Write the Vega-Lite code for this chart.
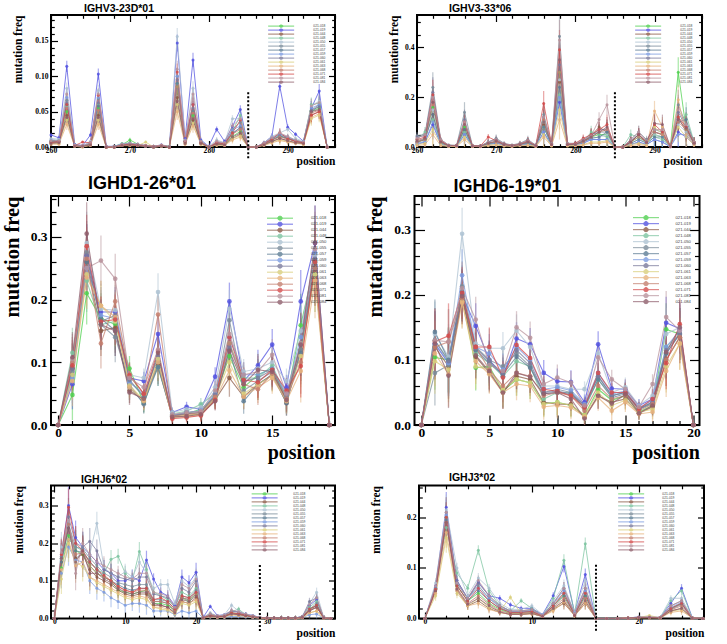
{
  "$schema": "https://vega.github.io/schema/vega-lite/v6.json",
  "background": "white",
  "padding": {"left": 1, "top": 3, "right": 0, "bottom": 0},
  "spacing": 5,
  "resolve": {"legend": {"color": "independent"}},
  "config": {
    "view": {"stroke": "black", "strokeWidth": 2},
    "axis": {"domain": false, "grid": false, "tickColor": "black", "tickWidth": 1.2, "labelFont": "Liberation Serif", "labelFontWeight": "bold", "labelColor": "black", "titleFont": "Liberation Serif", "titleFontWeight": "bold", "titleColor": "black", "labelFlush": false, "labelOverlap": false},
    "title": {"anchor": "start", "frame": "group", "font": "Liberation Sans", "fontWeight": "bold", "color": "black", "baseline": "alphabetic"}
  },
  "vconcat": [
    {
      "hconcat": [
        {
          "width": 284, "height": 132,
          "title": {"text": "IGHV3-23D*01", "fontSize": 10.5, "dx": 33, "offset": -0.5},
          "data": {
            "values": "x,021-018,021-019,021-044,021-048,021-050,021-055,021-057,021-059,021-060,021-061,021-063,021-068,021-071,021-081,021-084,e\n260,.008,.017,.006,.009,.012,.008,.007,.01,.008,.005,.004,.007,.006,.009,.005,.003\n261,.008,.013,.006,.01,.011,.008,.007,.009,.008,.005,.004,.007,.008,.009,.006,.003\n262,.05,.114,.045,.058,.083,.066,.06,.07,.062,.038,.032,.055,.06,.075,.042,.008\n263,.003,.004,.002,.003,.003,.002,.002,.003,.002,.001,.001,.002,.002,.003,.001,.001\n264,.001,.002,.001,.001,.002,.001,.001,.001,.001,0,0,.001,.007,.002,.001,.001\n265,.004,.017,.003,.005,.008,.005,.004,.006,.005,.003,.002,.004,.006,.006,.003,.003\n266,.055,.103,.045,.06,.08,.068,.058,.07,.062,.038,.032,.052,.073,.075,.042,.008\n267,0,.001,0,0,.001,0,0,0,0,0,0,0,0,.001,0,0\n268,0,.001,0,.001,0,0,0,.001,0,0,0,0,0,0,0,0\n269,.003,.004,.002,.005,.004,.003,.003,.004,.003,.002,.002,.003,.003,.004,.002,.002\n270,.01,.005,.003,.006,.004,.004,.003,.005,.004,.002,.002,.003,.004,.005,.003,.003\n271,.004,.004,.002,.003,.003,.003,.002,.003,.003,.002,.002,.002,.003,.004,.002,.002\n272,.001,.002,.001,.002,.002,.001,.001,.002,.001,.007,.002,.001,.002,.002,.001,.002\n273,.001,.001,0,.001,.001,0,0,.001,0,0,0,0,.001,.001,0,.001\n274,.002,.003,.001,.002,.002,.002,.001,.002,.002,.001,.001,.002,.002,.003,.001,.002\n275,.001,0,0,.001,0,0,0,.001,0,0,0,0,0,.001,0,0\n276,.085,.147,.07,.09,.156,.1,.09,.1,.095,.06,.05,.085,.106,.11,.065,.012\n277,.008,.012,.006,.009,.01,.008,.007,.009,.008,.005,.004,.007,.008,.009,.005,.003\n278,.045,.123,.038,.05,.083,.06,.05,.06,.055,.034,.03,.048,.06,.075,.04,.01\n279,.007,.01,.005,.008,.008,.007,.006,.008,.007,.004,.004,.006,.007,.008,.005,.003\n280,0,.001,0,0,.001,0,0,0,0,0,0,0,0,0,0,0\n281,.004,.025,.003,.005,.01,.006,.005,.007,.006,.003,.003,.005,.006,.008,.004,.004\n282,.004,.008,.003,.005,.006,.005,.004,.005,.004,.003,.002,.004,.005,.006,.003,.003\n283,.015,.029,.012,.022,.04,.025,.018,.024,.02,.012,.01,.018,.02,.03,.014,.005\n284,.022,.053,.018,.045,.04,.035,.028,.03,.027,.016,.014,.025,.038,.04,.02,.006\n285,0,0,0,0,0,0,0,0,0,0,0,0,0,0,0,0\n286,0,0,0,0,0,0,0,0,0,0,0,0,0,0,0,0\n287,.004,.006,.003,.005,.006,.005,.004,.005,.004,.003,.002,.004,.005,.006,.003,.003\n288,.01,.015,.008,.012,.015,.012,.01,.012,.01,.007,.006,.01,.011,.013,.008,.004\n289,.015,.086,.012,.016,.02,.018,.015,.018,.016,.01,.009,.014,.02,.02,.012,.006\n290,.012,.028,.009,.013,.025,.014,.012,.014,.012,.008,.007,.011,.012,.015,.009,.004\n291,.008,.018,.006,.009,.012,.009,.008,.009,.008,.006,.005,.008,.008,.01,.006,.003\n292,.006,.008,.005,.007,.008,.007,.006,.007,.006,.004,.004,.006,.006,.007,.005,.003\n293,.05,.055,.045,.06,.058,.052,.05,.055,.052,.04,.042,.048,.045,.058,.05,.01\n294,.055,.079,.05,.062,.065,.06,.058,.06,.057,.045,.047,.052,.05,.063,.053,.01\n295,0,0,0,0,0,0,0,0,0,0,0,0,0,0,0,0",
            "format": {"type": "csv", "parse": {"x": "number", "021-018": "number", "021-019": "number", "021-044": "number", "021-048": "number", "021-050": "number", "021-055": "number", "021-057": "number", "021-059": "number", "021-060": "number", "021-061": "number", "021-063": "number", "021-068": "number", "021-071": "number", "021-081": "number", "021-084": "number", "e": "number"}}
          },
          "transform": [{"fold": ["021-018", "021-019", "021-044", "021-048", "021-050", "021-055", "021-057", "021-059", "021-060", "021-061", "021-063", "021-068", "021-071", "021-081", "021-084"], "as": ["s", "v"]}],
          "resolve": {"scale": {"y": "independent"}, "axis": {"x": "independent", "y": "independent"}},
          "layer": [
            {
              "mark": {"type": "errorbar", "thickness": 1.2, "opacity": 0.5},
              "encoding": {
                "x": {"field": "x", "type": "quantitative", "scale": {"domain": [260, 296], "nice": false}, "axis": {"orient": "bottom", "values": [260, 262, 264, 266, 268, 270, 272, 274, 276, 278, 280, 282, 284, 286, 288, 290, 292, 294, 296], "format": "d", "labelExpr": "datum.value % 10 === 0 ? datum.label : ''", "tickSize": {"condition": {"test": "datum.value % 10 === 0", "value": -6.5}, "value": -3.3}, "labelFontSize": 7.6, "labelPadding": 5.5, "title": "position", "titleAnchor": "end", "titleFontSize": 11.5, "titlePadding": -1}},
                "y": {"field": "v", "type": "quantitative", "scale": {"domain": [0, 0.1865], "clamp": true}, "axis": {"orient": "left", "values": [0, 0.01, 0.02, 0.03, 0.04, 0.05, 0.06, 0.07, 0.08, 0.09, 0.1, 0.11, 0.12, 0.13, 0.14, 0.15, 0.16, 0.17, 0.18], "format": ".2f", "labelExpr": "round(datum.value*100) % 5 === 0 ? datum.label : ''", "tickSize": {"condition": {"test": "round(datum.value*100) % 5 === 0", "value": -6.5}, "value": -3.3}, "labelFontSize": 7.6, "labelPadding": 9.5, "title": "mutation freq", "titleAnchor": "end", "titleFontSize": 11.5, "titlePadding": 11}},
                "yError": {"field": "e"},
                "color": {"field": "s", "type": "nominal"}
              }
            },
            {
              "mark": {"type": "line", "strokeWidth": 1, "opacity": 0.75},
              "encoding": {
                "x": {"field": "x", "type": "quantitative", "scale": {"domain": [260, 296], "nice": false}, "axis": {"orient": "top", "values": [260, 262, 264, 266, 268, 270, 272, 274, 276, 278, 280, 282, 284, 286, 288, 290, 292, 294, 296], "labels": false, "tickSize": {"condition": {"test": "datum.value % 10 === 0", "value": -6.5}, "value": -3.3}, "title": null}},
                "y": {"field": "v", "type": "quantitative", "scale": {"domain": [0, 0.1865]}, "axis": {"orient": "right", "values": [0, 0.01, 0.02, 0.03, 0.04, 0.05, 0.06, 0.07, 0.08, 0.09, 0.1, 0.11, 0.12, 0.13, 0.14, 0.15, 0.16, 0.17, 0.18], "labels": false, "tickSize": {"condition": {"test": "round(datum.value*100) % 5 === 0", "value": -6.5}, "value": -3.3}, "title": null}},
                "color": {"field": "s", "type": "nominal"}
              }
            },
            {
              "mark": {"type": "point", "filled": true, "size": 9, "opacity": 0.85},
              "encoding": {
                "x": {"field": "x", "type": "quantitative", "scale": {"domain": [260, 296], "nice": false}, "axis": null},
                "y": {"field": "v", "type": "quantitative", "scale": {"domain": [0, 0.1865]}, "axis": null},
                "color": {"field": "s", "type": "nominal",
                  "scale": {"domain": ["021-018", "021-019", "021-044", "021-048", "021-050", "021-055", "021-057", "021-059", "021-060", "021-061", "021-063", "021-068", "021-071", "021-081", "021-084"], "range": ["#4fd04f", "#5252e0", "#8b5a46", "#7cc4a0", "#adc2d2", "#7a8c9a", "#5d7d95", "#7b9be0", "#7a7a9c", "#d9cf7c", "#e6b27c", "#c47f6e", "#d44a4a", "#b8939c", "#8f5e6c"]},
                  "legend": {"orient": "none", "legendX": 216.5, "legendY": 9.5, "title": null, "padding": 0, "rowPadding": -1.5, "clipHeight": 3.2, "symbolOffset": 12, "symbolType": "M-13,0H13M1.6,0A1.6,1.6,0,1,1,-1.6,0A1.6,1.6,0,1,1,1.6,0", "symbolSize": 4, "symbolStrokeWidth": 1, "symbolOpacity": 0.8, "labelFontSize": 3.3, "labelOffset": 30.5, "labelFont": "Liberation Sans", "labelColor": "#444", "encode": {"symbols": {"update": {"stroke": {"scale": "color", "field": "value"}}}}}}
              }
            },
            {
              "data": {"values": [{}]},
              "mark": {"type": "rule", "strokeDash": [2, 2], "strokeWidth": 2, "color": "black"},
              "encoding": {
                "x": {"datum": 285, "type": "quantitative", "scale": {"domain": [260, 296], "nice": false}, "axis": null},
                "y": {"datum": -0.016, "type": "quantitative", "scale": {"domain": [0, 0.1865]}, "axis": null},
                "y2": {"datum": 0.079}
              }
            }
          ]
        },
        {
          "width": 285, "height": 132,
          "title": {"text": "IGHV3-33*06", "fontSize": 10.5, "dx": 32, "offset": -0.5},
          "data": {
            "values": "x,021-018,021-019,021-044,021-048,021-050,021-055,021-057,021-059,021-060,021-061,021-063,021-068,021-071,021-081,021-084,e\n260,.02,.01,.02,.03,.015,.045,.02,.015,.04,.01,.005,.02,.03,.035,.025,.015\n261,.03,.02,.03,.06,.025,.05,.03,.02,.045,.015,.01,.03,.04,.05,.035,.02\n262,.16,.09,.13,.11,.15,.24,.13,.1,.22,.07,.05,.17,.21,.2,.18,.06\n263,.02,.01,.02,.015,.02,.03,.015,.01,.025,.01,.005,.02,.025,.03,.02,.01\n264,.005,.003,.005,.004,.005,.008,.004,.003,.006,.002,.002,.005,.006,.007,.005,.005\n265,.005,.003,.004,.004,.005,.007,.004,.003,.006,.002,.002,.005,.006,.006,.005,.005\n266,.08,.05,.07,.06,.09,.14,.07,.05,.11,.04,.03,.09,.1,.1,.09,.04\n267,.004,.003,.004,.003,.004,.006,.003,.003,.005,.002,.002,.004,.005,.005,.004,.004\n268,.003,.002,.003,.002,.003,.004,.003,.002,.004,.002,.001,.003,.004,.004,.003,.003\n269,.015,.01,.012,.01,.015,.02,.012,.01,.02,.008,.005,.015,.04,.02,.015,.012\n270,.02,.015,.02,.02,.02,.035,.02,.015,.03,.01,.008,.02,.025,.03,.025,.015\n271,.01,.008,.01,.008,.01,.015,.01,.008,.012,.005,.004,.01,.012,.013,.01,.008\n272,.005,.004,.005,.004,.005,.008,.005,.004,.006,.003,.002,.005,.006,.007,.005,.005\n273,.01,.008,.01,.012,.01,.015,.01,.008,.012,.006,.005,.01,.012,.013,.01,.01\n274,.015,.01,.02,.015,.015,.03,.015,.01,.025,.008,.006,.02,.025,.025,.02,.015\n275,.005,.004,.005,.005,.005,.008,.005,.004,.006,.003,.002,.005,.006,.007,.005,.005\n276,.1,.06,.09,.08,.1,.13,.08,.06,.12,.05,.04,.11,.175,.12,.1,.05\n277,.01,.006,.01,.008,.01,.015,.008,.006,.012,.005,.004,.01,.012,.013,.01,.008\n278,.3,.18,.26,.21,.27,.445,.24,.2,.33,.15,.11,.3,.39,.43,.35,.08\n279,.01,.006,.01,.008,.01,.015,.008,.006,.012,.005,.004,.01,.012,.013,.01,.008\n280,.01,.01,.012,.01,.01,.015,.01,.008,.012,.006,.005,.01,.015,.012,.01,.01\n281,.02,.015,.02,.02,.02,.03,.02,.015,.025,.01,.008,.02,.035,.03,.025,.015\n282,.04,.03,.045,.06,.035,.05,.035,.03,.045,.02,.015,.04,.05,.045,.04,.025\n283,.05,.03,.08,.05,.04,.06,.04,.03,.07,.02,.015,.06,.07,.11,.06,.03\n284,.05,.03,.06,.04,.05,.06,.06,.03,.07,.025,.02,.07,.09,.17,.08,.04\n285,0,0,0,0,0,0,0,0,0,0,0,0,0,0,0,0\n286,0,0,0,0,0,0,0,0,0,0,0,0,0,0,0,0\n287,.02,.01,.02,.05,.015,.03,.015,.01,.025,.01,.005,.02,.02,.03,.02,.02\n288,.04,.02,.05,.04,.03,.06,.03,.02,.05,.015,.01,.04,.05,.06,.05,.025\n289,.02,.01,.015,.015,.015,.03,.015,.01,.02,.008,.005,.02,.02,.025,.02,.015\n290,.05,.03,.06,.04,.05,.07,.04,.03,.06,.08,.145,.06,.09,.07,.095,.04\n291,.04,.02,.05,.03,.04,.06,.04,.02,.05,.05,.08,.05,.06,.07,.09,.04\n292,.002,.001,.002,.002,.002,.003,.002,.001,.002,.001,.001,.002,.002,.003,.002,.002\n293,.3,.06,.12,.1,.09,.17,.1,.05,.14,.08,.19,.1,.12,.15,.11,.06\n294,.07,.04,.06,.13,.06,.09,.11,.05,.08,.04,.05,.07,.08,.09,.075,.05\n295,.02,.01,.015,.02,.01,.02,.015,.01,.02,.008,.01,.015,.02,.02,.015,.02",
            "format": {"type": "csv", "parse": {"x": "number", "021-018": "number", "021-019": "number", "021-044": "number", "021-048": "number", "021-050": "number", "021-055": "number", "021-057": "number", "021-059": "number", "021-060": "number", "021-061": "number", "021-063": "number", "021-068": "number", "021-071": "number", "021-081": "number", "021-084": "number", "e": "number"}}
          },
          "transform": [{"fold": ["021-018", "021-019", "021-044", "021-048", "021-050", "021-055", "021-057", "021-059", "021-060", "021-061", "021-063", "021-068", "021-071", "021-081", "021-084"], "as": ["s", "v"]}],
          "resolve": {"scale": {"y": "independent"}, "axis": {"x": "independent", "y": "independent"}},
          "layer": [
            {
              "mark": {"type": "errorbar", "thickness": 1.2, "opacity": 0.5},
              "encoding": {
                "x": {"field": "x", "type": "quantitative", "scale": {"domain": [260, 296], "nice": false}, "axis": {"orient": "bottom", "values": [260, 262, 264, 266, 268, 270, 272, 274, 276, 278, 280, 282, 284, 286, 288, 290, 292, 294, 296], "format": "d", "labelExpr": "datum.value % 10 === 0 ? datum.label : ''", "tickSize": {"condition": {"test": "datum.value % 10 === 0", "value": -6.5}, "value": -3.3}, "labelFontSize": 7.6, "labelPadding": 5.5, "title": "position", "titleAnchor": "end", "titleFontSize": 11.5, "titlePadding": -1}},
                "y": {"field": "v", "type": "quantitative", "scale": {"domain": [0, 0.53], "clamp": true}, "axis": {"orient": "left", "values": [0, 0.05, 0.1, 0.15, 0.2, 0.25, 0.3, 0.35, 0.4, 0.45, 0.5], "format": ".1f", "labelExpr": "round(datum.value*100) % 20 === 0 ? datum.label : ''", "tickSize": {"condition": {"test": "round(datum.value*100) % 20 === 0", "value": -6.5}, "value": -3.3}, "labelFontSize": 7.6, "labelPadding": 9.5, "title": "mutation freq", "titleAnchor": "end", "titleFontSize": 11.5, "titlePadding": 5}},
                "yError": {"field": "e"},
                "color": {"field": "s", "type": "nominal"}
              }
            },
            {
              "mark": {"type": "line", "strokeWidth": 1, "opacity": 0.75},
              "encoding": {
                "x": {"field": "x", "type": "quantitative", "scale": {"domain": [260, 296], "nice": false}, "axis": {"orient": "top", "values": [260, 262, 264, 266, 268, 270, 272, 274, 276, 278, 280, 282, 284, 286, 288, 290, 292, 294, 296], "labels": false, "tickSize": {"condition": {"test": "datum.value % 10 === 0", "value": -6.5}, "value": -3.3}, "title": null}},
                "y": {"field": "v", "type": "quantitative", "scale": {"domain": [0, 0.53]}, "axis": {"orient": "right", "values": [0, 0.05, 0.1, 0.15, 0.2, 0.25, 0.3, 0.35, 0.4, 0.45, 0.5], "labels": false, "tickSize": {"condition": {"test": "round(datum.value*100) % 20 === 0", "value": -6.5}, "value": -3.3}, "title": null}},
                "color": {"field": "s", "type": "nominal"}
              }
            },
            {
              "mark": {"type": "point", "filled": true, "size": 9, "opacity": 0.85},
              "encoding": {
                "x": {"field": "x", "type": "quantitative", "scale": {"domain": [260, 296], "nice": false}, "axis": null},
                "y": {"field": "v", "type": "quantitative", "scale": {"domain": [0, 0.53]}, "axis": null},
                "color": {"field": "s", "type": "nominal",
                  "legend": {"orient": "none", "legendX": 217.5, "legendY": 9.5, "title": null, "padding": 0, "rowPadding": -1.5, "clipHeight": 3.2, "symbolOffset": 12, "symbolType": "M-13,0H13M1.6,0A1.6,1.6,0,1,1,-1.6,0A1.6,1.6,0,1,1,1.6,0", "symbolSize": 4, "symbolStrokeWidth": 1, "symbolOpacity": 0.8, "labelFontSize": 3.3, "labelOffset": 30.5, "labelFont": "Liberation Sans", "labelColor": "#444", "encode": {"symbols": {"update": {"stroke": {"scale": "color", "field": "value"}}}}}}
              }
            },
            {
              "data": {"values": [{}]},
              "mark": {"type": "rule", "strokeDash": [2, 2], "strokeWidth": 2, "color": "black"},
              "encoding": {
                "x": {"datum": 285, "type": "quantitative", "scale": {"domain": [260, 296], "nice": false}, "axis": null},
                "y": {"datum": -0.045, "type": "quantitative", "scale": {"domain": [0, 0.53]}, "axis": null},
                "y2": {"datum": 0.224}
              }
            }
          ]
        }
      ],
      "spacing": 50,
      "resolve": {"legend": {"color": "independent"}}
    },
    {
      "vconcat": [
        {
          "hconcat": [
            {
              "width": 284, "height": 229,
              "title": {"text": "IGHD1-26*01", "fontSize": 18, "dx": 37, "offset": -1},
              "data": {
                "values": "x,021-018,021-019,021-044,021-048,021-050,021-055,021-057,021-059,021-060,021-061,021-063,021-068,021-071,021-081,021-084,e\n0,0,0,0,0,0,0,0,0,0,0,0,0,0,0,0,0\n1,.048,.065,.09,.115,.1,.085,.08,.075,.09,.08,.07,.1,.095,.105,.108,.04\n2,.21,.27,.26,.23,.29,.275,.26,.25,.27,.24,.235,.265,.285,.25,.305,.05\n3,.17,.18,.15,.16,.185,.16,.17,.175,.165,.19,.19,.13,.165,.262,.16,.04\n4,.16,.18,.155,.165,.183,.14,.15,.17,.175,.165,.172,.197,.168,.233,.15,.04\n5,.09,.075,.055,.07,.08,.065,.06,.068,.072,.063,.06,.078,.08,.075,.052,.02\n6,.035,.07,.04,.045,.075,.033,.035,.05,.045,.04,.038,.05,.05,.06,.042,.015\n7,.1,.145,.095,.092,.212,.1,.092,.105,.11,.105,.1,.176,.118,.12,.115,.03\n8,.015,.02,.012,.018,.02,.015,.014,.016,.015,.013,.012,.014,.01,.017,.013,.008\n9,.018,.029,.015,.022,.025,.02,.018,.02,.018,.015,.013,.017,.012,.02,.014,.008\n10,.025,.025,.018,.033,.028,.022,.02,.023,.02,.018,.016,.02,.015,.022,.017,.01\n11,.045,.077,.04,.05,.06,.045,.042,.05,.048,.043,.04,.045,.04,.055,.038,.015\n12,.11,.197,.075,.13,.185,.167,.12,.14,.125,.1,.087,.13,.14,.145,.118,.03\n13,.06,.07,.045,.075,.085,.055,.038,.08,.07,.05,.045,.065,.072,.08,.065,.02\n14,.08,.095,.065,.075,.09,.07,.065,.08,.075,.065,.06,.057,.068,.085,.088,.025\n15,.09,.128,.08,.095,.1,.085,.08,.09,.088,.078,.075,.082,.088,.112,.085,.025\n16,.04,.06,.035,.045,.07,.038,.035,.05,.045,.04,.038,.042,.055,.05,.04,.02\n17,.159,.197,.12,.13,.15,.12,.115,.14,.128,.11,.086,.1,.094,.13,.128,.05\n18,.26,.29,.25,.24,.27,.26,.25,.275,.265,.24,.23,.25,.26,.28,.29,.06\n19,0,0,0,0,0,0,0,0,0,0,0,0,0,0,0,0",
                "format": {"type": "csv", "parse": {"x": "number", "021-018": "number", "021-019": "number", "021-044": "number", "021-048": "number", "021-050": "number", "021-055": "number", "021-057": "number", "021-059": "number", "021-060": "number", "021-061": "number", "021-063": "number", "021-068": "number", "021-071": "number", "021-081": "number", "021-084": "number", "e": "number"}}
              },
              "transform": [{"fold": ["021-018", "021-019", "021-044", "021-048", "021-050", "021-055", "021-057", "021-059", "021-060", "021-061", "021-063", "021-068", "021-071", "021-081", "021-084"], "as": ["s", "v"]}],
              "resolve": {"scale": {"y": "independent"}, "axis": {"x": "independent", "y": "independent"}},
              "layer": [
                {
                  "mark": {"type": "errorbar", "thickness": 1.3, "opacity": 0.5},
                  "encoding": {
                    "x": {"field": "x", "type": "quantitative", "scale": {"domain": [-0.5, 19.4], "nice": false}, "axis": {"orient": "bottom", "values": [0, 1, 2, 3, 4, 5, 6, 7, 8, 9, 10, 11, 12, 13, 14, 15, 16, 17, 18, 19], "format": "d", "labelExpr": "datum.value % 5 === 0 ? datum.label : ''", "tickSize": {"condition": {"test": "datum.value % 5 === 0", "value": -10}, "value": -4.5}, "labelFontSize": 13.5, "labelPadding": 10, "title": "position", "titleAnchor": "end", "titleFontSize": 20, "titlePadding": -2}},
                    "y": {"field": "v", "type": "quantitative", "scale": {"domain": [0, 0.365], "clamp": true}, "axis": {"orient": "left", "values": [0, 0.02, 0.04, 0.06, 0.08, 0.1, 0.12, 0.14, 0.16, 0.18, 0.2, 0.22, 0.24, 0.26, 0.28, 0.3, 0.32, 0.34, 0.36], "format": ".1f", "labelExpr": "round(datum.value*100) % 10 === 0 ? datum.label : ''", "tickSize": {"condition": {"test": "round(datum.value*100) % 10 === 0", "value": -10}, "value": -5}, "labelFontSize": 13.5, "labelPadding": 14, "title": "mutation freq", "titleAnchor": "end", "titleFontSize": 20.5, "titlePadding": 8}},
                    "yError": {"field": "e"},
                    "color": {"field": "s", "type": "nominal"}
                  }
                },
                {
                  "mark": {"type": "line", "strokeWidth": 1.1, "opacity": 0.75},
                  "encoding": {
                    "x": {"field": "x", "type": "quantitative", "scale": {"domain": [-0.5, 19.4], "nice": false}, "axis": {"orient": "top", "values": [0, 1, 2, 3, 4, 5, 6, 7, 8, 9, 10, 11, 12, 13, 14, 15, 16, 17, 18, 19], "labels": false, "tickSize": {"condition": {"test": "datum.value % 5 === 0", "value": -10}, "value": -4.5}, "title": null}},
                    "y": {"field": "v", "type": "quantitative", "scale": {"domain": [0, 0.365]}, "axis": {"orient": "right", "values": [0, 0.02, 0.04, 0.06, 0.08, 0.1, 0.12, 0.14, 0.16, 0.18, 0.2, 0.22, 0.24, 0.26, 0.28, 0.3, 0.32, 0.34, 0.36], "labels": false, "tickSize": {"condition": {"test": "round(datum.value*100) % 10 === 0", "value": -10}, "value": -5}, "title": null}},
                    "color": {"field": "s", "type": "nominal"}
                  }
                },
                {
                  "mark": {"type": "point", "filled": true, "size": 22, "opacity": 0.85},
                  "encoding": {
                    "x": {"field": "x", "type": "quantitative", "scale": {"domain": [-0.5, 19.4], "nice": false}, "axis": null},
                    "y": {"field": "v", "type": "quantitative", "scale": {"domain": [0, 0.365]}, "axis": null},
                    "color": {"field": "s", "type": "nominal",
                      "legend": {"orient": "none", "legendX": 215.5, "legendY": 19.5, "title": null, "padding": 0, "rowPadding": -0.64, "clipHeight": 5.36, "symbolOffset": 11, "symbolType": "M-6.5,0H6.5M1.1,0A1.1,1.1,0,1,1,-1.1,0A1.1,1.1,0,1,1,1.1,0", "symbolSize": 16, "symbolStrokeWidth": 1, "symbolOpacity": 0.8, "labelFontSize": 4.2, "labelOffset": 28.5, "labelFont": "Liberation Sans", "labelColor": "#444", "encode": {"symbols": {"update": {"stroke": {"scale": "color", "field": "value"}}}}}}
                  }
                }
              ]
            },
            {
              "width": 285, "height": 229,
              "title": {"text": "IGHD6-19*01", "fontSize": 18, "dx": 39, "offset": -1},
              "data": {
                "values": "x,021-018,021-019,021-044,021-048,021-050,021-055,021-057,021-059,021-060,021-061,021-063,021-068,021-071,021-081,021-084,e\n0,0,0,0,0,0,0,0,0,0,0,0,0,0,0,0,0\n1,.104,.125,.12,.13,.14,.08,.143,.125,.13,.098,.11,.12,.128,.13,.125,.05\n2,.1,.095,.09,.1,.105,.092,.1,.095,.098,.085,.078,.128,.137,.128,.076,.05\n3,.2,.2,.195,.2,.294,.213,.205,.23,.2,.19,.188,.195,.203,.21,.198,.04\n4,.088,.152,.105,.11,.125,.12,.115,.12,.118,.09,.098,.12,.12,.162,.107,.035\n5,.09,.1,.08,.095,.118,.1,.095,.11,.098,.085,.078,.085,.12,.092,.083,.03\n6,.052,.075,.05,.075,.118,.09,.078,.085,.08,.055,.05,.06,.073,.083,.05,.025\n7,.07,.133,.075,.098,.145,.11,.105,.12,.115,.07,.063,.08,.123,.15,.08,.025\n8,.065,.124,.07,.09,.12,.09,.088,.1,.095,.065,.06,.075,.103,.134,.074,.025\n9,.033,.08,.035,.04,.06,.05,.048,.055,.05,.032,.028,.045,.055,.063,.048,.02\n10,.035,.067,.032,.05,.06,.055,.05,.058,.052,.035,.03,.05,.052,.073,.05,.02\n11,.03,.066,.032,.05,.055,.05,.047,.053,.048,.03,.027,.045,.045,.065,.04,.018\n12,.015,.035,.012,.025,.055,.03,.028,.032,.03,.015,.013,.022,.027,.03,.01,.012\n13,.055,.124,.045,.07,.11,.075,.07,.08,.075,.05,.042,.06,.08,.104,.045,.02\n14,.038,.056,.035,.045,.05,.045,.042,.048,.045,.03,.022,.04,.05,.07,.033,.015\n15,.045,.055,.04,.05,.058,.05,.048,.052,.05,.038,.035,.045,.05,.055,.047,.015\n16,.02,.03,.018,.025,.03,.025,.024,.026,.025,.02,.017,.022,.025,.028,.018,.01\n17,.03,.04,.028,.035,.045,.035,.033,.038,.035,.024,.02,.032,.04,.063,.03,.015\n18,.147,.157,.1,.12,.14,.11,.11,.12,.115,.09,.083,.1,.095,.166,.112,.04\n19,.14,.148,.135,.14,.15,.14,.14,.145,.14,.125,.125,.135,.155,.145,.15,.04\n20,0,0,0,0,0,0,0,0,0,0,0,0,0,0,0,0",
                "format": {"type": "csv", "parse": {"x": "number", "021-018": "number", "021-019": "number", "021-044": "number", "021-048": "number", "021-050": "number", "021-055": "number", "021-057": "number", "021-059": "number", "021-060": "number", "021-061": "number", "021-063": "number", "021-068": "number", "021-071": "number", "021-081": "number", "021-084": "number", "e": "number"}}
              },
              "transform": [{"fold": ["021-018", "021-019", "021-044", "021-048", "021-050", "021-055", "021-057", "021-059", "021-060", "021-061", "021-063", "021-068", "021-071", "021-081", "021-084"], "as": ["s", "v"]}],
              "resolve": {"scale": {"y": "independent"}, "axis": {"x": "independent", "y": "independent"}},
              "layer": [
                {
                  "mark": {"type": "errorbar", "thickness": 1.3, "opacity": 0.5},
                  "encoding": {
                    "x": {"field": "x", "type": "quantitative", "scale": {"domain": [-0.5, 20.45], "nice": false}, "axis": {"orient": "bottom", "values": [0, 1, 2, 3, 4, 5, 6, 7, 8, 9, 10, 11, 12, 13, 14, 15, 16, 17, 18, 19, 20], "format": "d", "labelExpr": "datum.value % 5 === 0 ? datum.label : ''", "tickSize": {"condition": {"test": "datum.value % 5 === 0", "value": -10}, "value": -4.5}, "labelFontSize": 13.5, "labelPadding": 10, "title": "position", "titleAnchor": "end", "titleFontSize": 20, "titlePadding": -2}},
                    "y": {"field": "v", "type": "quantitative", "scale": {"domain": [0, 0.352], "clamp": true}, "axis": {"orient": "left", "values": [0, 0.02, 0.04, 0.06, 0.08, 0.1, 0.12, 0.14, 0.16, 0.18, 0.2, 0.22, 0.24, 0.26, 0.28, 0.3, 0.32, 0.34], "format": ".1f", "labelExpr": "round(datum.value*100) % 10 === 0 ? datum.label : ''", "tickSize": {"condition": {"test": "round(datum.value*100) % 10 === 0", "value": -10}, "value": -5}, "labelFontSize": 13.5, "labelPadding": 14, "title": "mutation freq", "titleAnchor": "end", "titleFontSize": 20.5, "titlePadding": 8}},
                    "yError": {"field": "e"},
                    "color": {"field": "s", "type": "nominal"}
                  }
                },
                {
                  "mark": {"type": "line", "strokeWidth": 1.1, "opacity": 0.75},
                  "encoding": {
                    "x": {"field": "x", "type": "quantitative", "scale": {"domain": [-0.5, 20.45], "nice": false}, "axis": {"orient": "top", "values": [0, 1, 2, 3, 4, 5, 6, 7, 8, 9, 10, 11, 12, 13, 14, 15, 16, 17, 18, 19, 20], "labels": false, "tickSize": {"condition": {"test": "datum.value % 5 === 0", "value": -10}, "value": -4.5}, "title": null}},
                    "y": {"field": "v", "type": "quantitative", "scale": {"domain": [0, 0.352]}, "axis": {"orient": "right", "values": [0, 0.02, 0.04, 0.06, 0.08, 0.1, 0.12, 0.14, 0.16, 0.18, 0.2, 0.22, 0.24, 0.26, 0.28, 0.3, 0.32, 0.34], "labels": false, "tickSize": {"condition": {"test": "round(datum.value*100) % 10 === 0", "value": -10}, "value": -5}, "title": null}},
                    "color": {"field": "s", "type": "nominal"}
                  }
                },
                {
                  "mark": {"type": "point", "filled": true, "size": 22, "opacity": 0.85},
                  "encoding": {
                    "x": {"field": "x", "type": "quantitative", "scale": {"domain": [-0.5, 20.45], "nice": false}, "axis": null},
                    "y": {"field": "v", "type": "quantitative", "scale": {"domain": [0, 0.352]}, "axis": null},
                    "color": {"field": "s", "type": "nominal",
                      "legend": {"orient": "none", "legendX": 218, "legendY": 19, "title": null, "padding": 0, "rowPadding": -0.64, "clipHeight": 5.36, "symbolOffset": 11, "symbolType": "M-6.5,0H6.5M1.1,0A1.1,1.1,0,1,1,-1.1,0A1.1,1.1,0,1,1,1.1,0", "symbolSize": 16, "symbolStrokeWidth": 1, "symbolOpacity": 0.8, "labelFontSize": 4.2, "labelOffset": 27, "labelFont": "Liberation Sans", "labelColor": "#444", "encode": {"symbols": {"update": {"stroke": {"scale": "color", "field": "value"}}}}}}
                  }
                }
              ]
            }
          ],
          "spacing": 27.5,
          "resolve": {"legend": {"color": "independent"}}
        },
        {
          "hconcat": [
            {
              "width": 284, "height": 133,
              "title": {"text": "IGHJ6*02", "fontSize": 10.5, "dx": 30, "offset": -0.5},
              "data": {
                "values": "x,021-018,021-019,021-044,021-048,021-050,021-055,021-057,021-059,021-060,021-061,021-063,021-068,021-071,021-081,021-084,e\n0,0,0,0,0,0,0,0,0,0,0,0,0,0,0,0,0\n1,.135,.17,.15,.16,.19,.16,.15,.12,.165,.105,.13,.17,.17,.175,.16,.04\n2,.22,.3,.24,.21,.26,.25,.24,.19,.27,.2,.21,.25,.295,.26,.24,.05\n3,.18,.215,.16,.19,.15,.19,.18,.155,.2,.15,.14,.17,.2,.12,.15,.045\n4,.17,.19,.17,.18,.19,.185,.175,.15,.19,.138,.15,.175,.18,.2,.18,.04\n5,.14,.17,.13,.15,.17,.16,.15,.1,.205,.11,.11,.14,.15,.17,.12,.035\n6,.12,.15,.11,.13,.253,.14,.13,.08,.18,.095,.1,.12,.13,.15,.12,.03\n7,.11,.13,.1,.12,.135,.12,.11,.07,.13,.085,.09,.11,.115,.14,.105,.025\n8,.1,.12,.09,.157,.12,.11,.1,.055,.12,.075,.08,.1,.1,.13,.095,.025\n9,.075,.1,.075,.165,.11,.095,.09,.045,.11,.065,.07,.085,.085,.12,.08,.02\n10,.07,.1,.065,.12,.125,.09,.08,.035,.105,.055,.06,.075,.075,.11,.07,.02\n11,.065,.11,.06,.1,.11,.085,.075,.04,.1,.05,.055,.07,.07,.105,.065,.02\n12,.07,.1,.065,.178,.15,.09,.08,.04,.11,.055,.06,.075,.08,.12,.07,.025\n13,.075,.155,.065,.13,.12,.09,.08,.035,.11,.05,.055,.075,.08,.12,.07,.025\n14,.04,.105,.035,.07,.08,.05,.045,.02,.065,.03,.03,.045,.05,.07,.04,.015\n15,.04,.07,.035,.06,.09,.05,.045,.02,.06,.025,.03,.045,.055,.065,.035,.015\n16,.035,.06,.03,.05,.09,.045,.04,.02,.055,.022,.025,.04,.045,.06,.03,.015\n17,.02,.035,.015,.03,.04,.025,.02,.01,.03,.012,.015,.02,.025,.03,.015,.01\n18,.055,.11,.045,.07,.1,.06,.055,.02,.08,.04,.045,.055,.06,.09,.05,.02\n19,.045,.095,.04,.06,.085,.055,.05,.015,.07,.035,.04,.05,.055,.08,.045,.02\n20,.065,.123,.055,.08,.11,.075,.07,.02,.1,.045,.05,.065,.07,.105,.06,.025\n21,.002,.003,.002,.002,.003,.002,.002,.001,.003,.001,.001,.002,.002,.003,.002,.002\n22,.008,.032,.006,.01,.015,.008,.007,.004,.012,.005,.005,.007,.008,.012,.006,.005\n23,.005,.008,.004,.006,.007,.005,.005,.003,.006,.003,.003,.005,.005,.007,.004,.004\n24,.006,.01,.005,.008,.01,.006,.006,.003,.008,.004,.004,.006,.006,.009,.005,.004\n25,.015,.02,.012,.018,.035,.015,.013,.006,.02,.01,.01,.014,.015,.022,.012,.007\n26,.012,.018,.01,.025,.02,.013,.012,.005,.016,.008,.008,.012,.013,.018,.01,.006\n27,.008,.012,.007,.01,.012,.009,.008,.004,.01,.006,.006,.008,.009,.011,.007,.005\n28,.005,.008,.004,.006,.008,.005,.005,.002,.006,.003,.003,.005,.005,.007,.004,.004\n29,.002,.003,.002,.002,.003,.002,.002,.001,.002,.001,.001,.002,.002,.003,.002,.002\n30,.001,.001,.001,.001,.001,.001,.001,0,.001,0,0,.001,.001,.001,.001,.001\n31,.001,.001,.001,.001,.001,.001,.001,0,.001,0,0,.001,.001,.001,.001,.001\n32,.001,.001,.001,.001,.001,.001,.001,0,.001,0,0,.001,.001,.001,.001,.001\n33,.001,.001,.001,.001,.001,.001,.001,0,.001,0,0,.001,.001,.001,.001,.001\n34,.001,.001,.001,.001,.001,.001,.001,0,.001,0,0,.001,.001,.001,.001,.001\n35,.004,.006,.003,.005,.006,.004,.004,.002,.005,.002,.002,.003,.004,.005,.003,.003\n36,.025,.035,.02,.03,.04,.025,.022,.01,.045,.015,.015,.022,.025,.037,.02,.01\n37,.035,.05,.03,.045,.07,.04,.035,.012,.055,.02,.02,.03,.035,.055,.03,.012\n38,.002,.003,.002,.002,.003,.002,.002,.001,.002,.001,.001,.002,.002,.003,.002,.002\n39,0,0,0,0,0,0,0,0,0,0,0,0,0,0,0,0",
                "format": {"type": "csv", "parse": {"x": "number", "021-018": "number", "021-019": "number", "021-044": "number", "021-048": "number", "021-050": "number", "021-055": "number", "021-057": "number", "021-059": "number", "021-060": "number", "021-061": "number", "021-063": "number", "021-068": "number", "021-071": "number", "021-081": "number", "021-084": "number", "e": "number"}}
              },
              "transform": [{"fold": ["021-018", "021-019", "021-044", "021-048", "021-050", "021-055", "021-057", "021-059", "021-060", "021-061", "021-063", "021-068", "021-071", "021-081", "021-084"], "as": ["s", "v"]}],
              "resolve": {"scale": {"y": "independent"}, "axis": {"x": "independent", "y": "independent"}},
              "layer": [
                {
                  "mark": {"type": "errorbar", "thickness": 1.2, "opacity": 0.5},
                  "encoding": {
                    "x": {"field": "x", "type": "quantitative", "scale": {"domain": [-0.47, 39.6], "nice": false}, "axis": {"orient": "bottom", "values": [0, 2, 4, 6, 8, 10, 12, 14, 16, 18, 20, 22, 24, 26, 28, 30, 32, 34, 36, 38], "format": "d", "labelExpr": "datum.value % 10 === 0 ? datum.label : ''", "tickSize": {"condition": {"test": "datum.value % 10 === 0", "value": -6.5}, "value": -3.3}, "labelFontSize": 7.6, "labelPadding": 5.5, "title": "position", "titleAnchor": "end", "titleFontSize": 11.5, "titlePadding": -1}},
                    "y": {"field": "v", "type": "quantitative", "scale": {"domain": [0, 0.353], "clamp": true}, "axis": {"orient": "left", "values": [0, 0.02, 0.04, 0.06, 0.08, 0.1, 0.12, 0.14, 0.16, 0.18, 0.2, 0.22, 0.24, 0.26, 0.28, 0.3, 0.32, 0.34], "format": ".1f", "labelExpr": "round(datum.value*100) % 10 === 0 ? datum.label : ''", "tickSize": {"condition": {"test": "round(datum.value*100) % 10 === 0", "value": -6.5}, "value": -3.3}, "labelFontSize": 7.6, "labelPadding": 9.5, "title": "mutation freq", "titleAnchor": "end", "titleFontSize": 11.5, "titlePadding": 14.3}},
                    "yError": {"field": "e"},
                    "color": {"field": "s", "type": "nominal"}
                  }
                },
                {
                  "mark": {"type": "line", "strokeWidth": 1, "opacity": 0.75},
                  "encoding": {
                    "x": {"field": "x", "type": "quantitative", "scale": {"domain": [-0.47, 39.6], "nice": false}, "axis": {"orient": "top", "values": [0, 2, 4, 6, 8, 10, 12, 14, 16, 18, 20, 22, 24, 26, 28, 30, 32, 34, 36, 38], "labels": false, "tickSize": {"condition": {"test": "datum.value % 10 === 0", "value": -6.5}, "value": -3.3}, "title": null}},
                    "y": {"field": "v", "type": "quantitative", "scale": {"domain": [0, 0.353]}, "axis": {"orient": "right", "values": [0, 0.02, 0.04, 0.06, 0.08, 0.1, 0.12, 0.14, 0.16, 0.18, 0.2, 0.22, 0.24, 0.26, 0.28, 0.3, 0.32, 0.34], "labels": false, "tickSize": {"condition": {"test": "round(datum.value*100) % 10 === 0", "value": -6.5}, "value": -3.3}, "title": null}},
                    "color": {"field": "s", "type": "nominal"}
                  }
                },
                {
                  "mark": {"type": "point", "filled": true, "size": 9, "opacity": 0.85},
                  "encoding": {
                    "x": {"field": "x", "type": "quantitative", "scale": {"domain": [-0.47, 39.6], "nice": false}, "axis": null},
                    "y": {"field": "v", "type": "quantitative", "scale": {"domain": [0, 0.353]}, "axis": null},
                    "color": {"field": "s", "type": "nominal",
                      "legend": {"orient": "none", "legendX": 200, "legendY": 6.8, "title": null, "padding": 0, "rowPadding": -1.5, "clipHeight": 3.2, "symbolOffset": 12, "symbolType": "M-13,0H13M1.6,0A1.6,1.6,0,1,1,-1.6,0A1.6,1.6,0,1,1,1.6,0", "symbolSize": 4, "symbolStrokeWidth": 1, "symbolOpacity": 0.8, "labelFontSize": 3.3, "labelOffset": 27, "labelFont": "Liberation Sans", "labelColor": "#444", "encode": {"symbols": {"update": {"stroke": {"scale": "color", "field": "value"}}}}}}
                  }
                },
                {
                  "data": {"values": [{}]},
                  "mark": {"type": "rule", "strokeDash": [2, 2], "strokeWidth": 2, "color": "black"},
                  "encoding": {
                    "x": {"datum": 29, "type": "quantitative", "scale": {"domain": [-0.47, 39.6], "nice": false}, "axis": null},
                    "y": {"datum": -0.033, "type": "quantitative", "scale": {"domain": [0, 0.353]}, "axis": null},
                    "y2": {"datum": 0.146}
                  }
                }
              ]
            },
            {
              "width": 285, "height": 133,
              "title": {"text": "IGHJ3*02", "fontSize": 10.5, "dx": 30, "offset": -0.5},
              "data": {
                "values": "x,021-018,021-019,021-044,021-048,021-050,021-055,021-057,021-059,021-060,021-061,021-063,021-068,021-071,021-081,021-084,e\n0,0,0,0,0,0,0,0,0,0,0,0,0,0,0,0,0\n1,.06,.065,.055,.06,.07,.06,.058,.062,.06,.045,.05,.058,.058,.065,.055,.01\n2,.2,.22,.19,.18,.215,.2,.195,.205,.21,.16,.17,.19,.2,.21,.19,.03\n3,.065,.075,.055,.09,.1,.07,.065,.07,.075,.05,.055,.06,.065,.07,.058,.01\n4,.035,.04,.025,.06,.045,.04,.035,.04,.04,.025,.025,.03,.035,.04,.028,.008\n5,.05,.072,.035,.135,.08,.065,.055,.06,.07,.04,.03,.045,.06,.075,.04,.01\n6,.03,.045,.02,.055,.06,.04,.035,.04,.045,.022,.018,.028,.035,.045,.025,.008\n7,.018,.04,.012,.025,.03,.022,.02,.025,.025,.015,.012,.015,.02,.025,.013,.006\n8,.01,.027,.008,.015,.018,.013,.012,.014,.015,.042,.008,.01,.012,.015,.008,.005\n9,.01,.02,.008,.035,.018,.013,.012,.014,.015,.009,.008,.01,.012,.015,.008,.005\n10,.012,.02,.01,.02,.025,.015,.014,.016,.018,.01,.009,.012,.014,.018,.01,.005\n11,.005,.008,.004,.006,.008,.006,.005,.006,.006,.004,.004,.005,.005,.006,.004,.003\n12,.025,.045,.018,.04,.035,.028,.025,.03,.03,.018,.015,.022,.025,.03,.02,.007\n13,.045,.103,.03,.115,.065,.05,.045,.055,.06,.035,.032,.04,.05,.06,.035,.012\n14,.008,.012,.006,.01,.012,.009,.008,.009,.01,.006,.005,.007,.008,.01,.006,.004\n15,.045,.087,.03,.148,.075,.05,.045,.055,.06,.035,.03,.04,.05,.06,.035,.012\n16,0,0,0,0,0,0,0,0,0,0,0,0,0,0,0,0\n17,0,0,0,0,0,0,0,0,0,0,0,0,0,0,0,0\n18,0,0,0,0,0,0,0,0,0,0,0,0,0,0,0,0\n19,.001,.001,.001,.001,.001,.001,.001,.001,.001,.001,.001,.001,.001,.001,.001,.001\n20,.002,.003,.002,.002,.003,.002,.002,.002,.002,.002,.001,.002,.002,.003,.002,.002\n21,.002,.003,.002,.002,.003,.002,.002,.002,.002,.006,.001,.002,.002,.003,.002,.002\n22,.002,.002,.001,.002,.002,.002,.002,.002,.002,.001,.001,.002,.002,.002,.001,.002\n23,.02,.03,.015,.035,.04,.02,.018,.022,.025,.014,.012,.017,.02,.025,.015,.006\n24,.03,.06,.02,.055,.04,.03,.028,.032,.035,.018,.015,.025,.03,.035,.02,.008\n25,.001,.002,.001,.001,.002,.001,.001,.001,.001,.001,.001,.001,.001,.001,.001,.001\n26,0,0,0,0,0,0,0,0,0,0,0,0,0,0,0,0",
                "format": {"type": "csv", "parse": {"x": "number", "021-018": "number", "021-019": "number", "021-044": "number", "021-048": "number", "021-050": "number", "021-055": "number", "021-057": "number", "021-059": "number", "021-060": "number", "021-061": "number", "021-063": "number", "021-068": "number", "021-071": "number", "021-081": "number", "021-084": "number", "e": "number"}}
              },
              "transform": [{"fold": ["021-018", "021-019", "021-044", "021-048", "021-050", "021-055", "021-057", "021-059", "021-060", "021-061", "021-063", "021-068", "021-071", "021-081", "021-084"], "as": ["s", "v"]}],
              "resolve": {"scale": {"y": "independent"}, "axis": {"x": "independent", "y": "independent"}},
              "layer": [
                {
                  "mark": {"type": "errorbar", "thickness": 1.2, "opacity": 0.5},
                  "encoding": {
                    "x": {"field": "x", "type": "quantitative", "scale": {"domain": [-0.55, 26.1], "nice": false}, "axis": {"orient": "bottom", "values": [0, 2, 4, 6, 8, 10, 12, 14, 16, 18, 20, 22, 24, 26], "format": "d", "labelExpr": "datum.value % 10 === 0 ? datum.label : ''", "tickSize": {"condition": {"test": "datum.value % 10 === 0", "value": -6.5}, "value": -3.3}, "labelFontSize": 7.6, "labelPadding": 5.5, "title": "position", "titleAnchor": "end", "titleFontSize": 11.5, "titlePadding": -1}},
                    "y": {"field": "v", "type": "quantitative", "scale": {"domain": [0, 0.263], "clamp": true}, "axis": {"orient": "left", "values": [0, 0.02, 0.04, 0.06, 0.08, 0.1, 0.12, 0.14, 0.16, 0.18, 0.2, 0.22, 0.24, 0.26], "format": ".1f", "labelExpr": "round(datum.value*100) % 10 === 0 ? datum.label : ''", "tickSize": {"condition": {"test": "round(datum.value*100) % 10 === 0", "value": -6.5}, "value": -3.3}, "labelFontSize": 7.6, "labelPadding": 9.5, "title": "mutation freq", "titleAnchor": "end", "titleFontSize": 11.5, "titlePadding": 25}},
                    "yError": {"field": "e"},
                    "color": {"field": "s", "type": "nominal"}
                  }
                },
                {
                  "mark": {"type": "line", "strokeWidth": 1, "opacity": 0.75},
                  "encoding": {
                    "x": {"field": "x", "type": "quantitative", "scale": {"domain": [-0.55, 26.1], "nice": false}, "axis": {"orient": "top", "values": [0, 2, 4, 6, 8, 10, 12, 14, 16, 18, 20, 22, 24, 26], "labels": false, "tickSize": {"condition": {"test": "datum.value % 10 === 0", "value": -6.5}, "value": -3.3}, "title": null}},
                    "y": {"field": "v", "type": "quantitative", "scale": {"domain": [0, 0.263]}, "axis": {"orient": "right", "values": [0, 0.02, 0.04, 0.06, 0.08, 0.1, 0.12, 0.14, 0.16, 0.18, 0.2, 0.22, 0.24, 0.26], "labels": false, "tickSize": {"condition": {"test": "round(datum.value*100) % 10 === 0", "value": -6.5}, "value": -3.3}, "title": null}},
                    "color": {"field": "s", "type": "nominal"}
                  }
                },
                {
                  "mark": {"type": "point", "filled": true, "size": 9, "opacity": 0.85},
                  "encoding": {
                    "x": {"field": "x", "type": "quantitative", "scale": {"domain": [-0.55, 26.1], "nice": false}, "axis": null},
                    "y": {"field": "v", "type": "quantitative", "scale": {"domain": [0, 0.263]}, "axis": null},
                    "color": {"field": "s", "type": "nominal",
                      "legend": {"orient": "none", "legendX": 198.5, "legendY": 6.8, "title": null, "padding": 0, "rowPadding": -1.5, "clipHeight": 3.2, "symbolOffset": 12, "symbolType": "M-13,0H13M1.6,0A1.6,1.6,0,1,1,-1.6,0A1.6,1.6,0,1,1,1.6,0", "symbolSize": 4, "symbolStrokeWidth": 1, "symbolOpacity": 0.8, "labelFontSize": 3.3, "labelOffset": 29.5, "labelFont": "Liberation Sans", "labelColor": "#444", "encode": {"symbols": {"update": {"stroke": {"scale": "color", "field": "value"}}}}}}
                  }
                },
                {
                  "data": {"values": [{}]},
                  "mark": {"type": "rule", "strokeDash": [2, 2], "strokeWidth": 2, "color": "black"},
                  "encoding": {
                    "x": {"datum": 16, "type": "quantitative", "scale": {"domain": [-0.55, 26.1], "nice": false}, "axis": null},
                    "y": {"datum": -0.024, "type": "quantitative", "scale": {"domain": [0, 0.263]}, "axis": null},
                    "y2": {"datum": 0.108}
                  }
                }
              ]
            }
          ],
          "spacing": 32,
          "resolve": {"legend": {"color": "independent"}}
        }
      ],
      "spacing": 8.5,
      "resolve": {"legend": {"color": "independent"}}
    }
  ]
}
